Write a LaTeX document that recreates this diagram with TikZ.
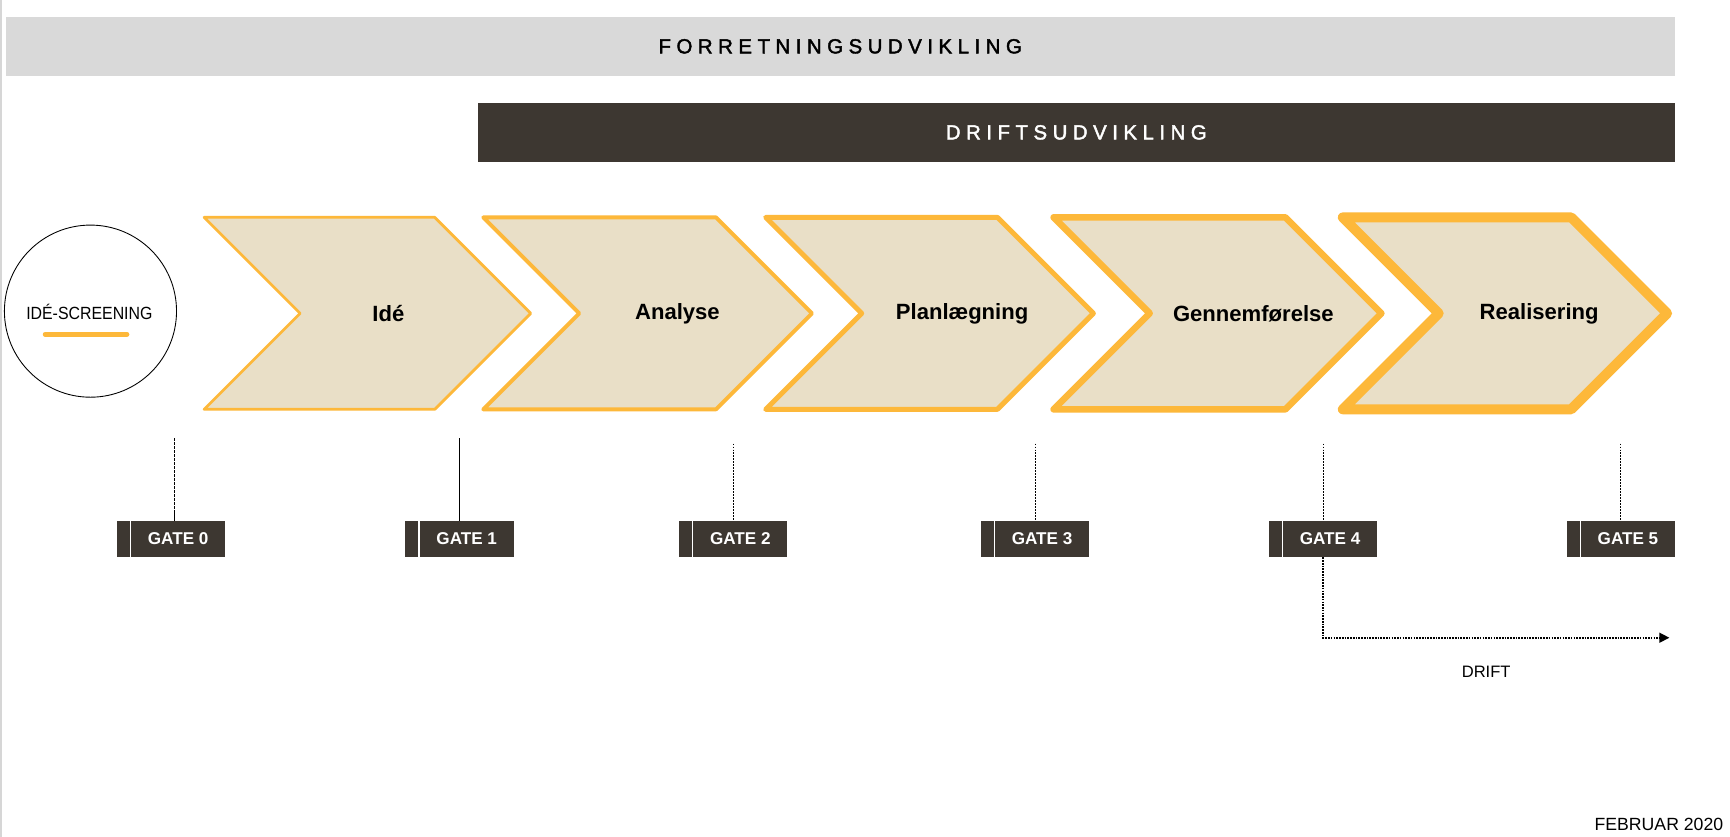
\documentclass[tikz,border=0pt]{standalone}
\usepackage{fontspec}
\setmainfont{Liberation Sans}
\newfontfamily\mediumfont[FakeBold=2]{Liberation Sans}
\usetikzlibrary{arrows.meta}
\definecolor{barGray}{HTML}{D9D9D9}
\definecolor{darkBrown}{HTML}{3D3731}
\definecolor{orangeLine}{HTML}{FDB83A}
\definecolor{chevFill}{HTML}{E9DFC7}
\definecolor{borderGray}{HTML}{D6D6D6}
\newcommand{\chevronshape}[3]{%
  \draw[chevron, line width=#3] (#1,197) -- ++(#2,0) -- ++(87,87) -- ++(-87,87) -- ++(-#2,0) -- ++(87,-87) -- cycle;}
\begin{document}
\begin{tikzpicture}[x=1pt,y=-1pt,
  chevron/.style={fill=chevFill, draw=orangeLine, line join=round},
  chevtext/.style={font=\fontsize{20}{24}\selectfont\bfseries, inner sep=0pt},
  bartext/.style={font=\mediumfont\fontsize{18.5}{22}\selectfont\addfontfeature{LetterSpace=27}, inner sep=0pt},
  gatebox/.style={fill=darkBrown, minimum width=98pt, minimum height=33pt, inner sep=0pt},
  gatetext/.style={text=white, font=\fontsize{15.5}{18}\selectfont\bfseries, inner sep=0pt},
  gateline/.style={draw=black, line width=0.7pt, dash pattern=on 1.5pt off 1.2pt},
  plaintext/.style={font=\fontsize{15}{18}\selectfont, inner sep=0pt}]
\useasboundingbox (0,0) rectangle (1568,758.6);
\fill[white] (0,0) rectangle (1568,758.6);
\draw[borderGray, line width=1.5pt] (1,0) -- (1,758.6);
% bars
\fill[barGray] (5,15) rectangle (1518,69);
\node[bartext] (forr) at (761.5,42) {FORRETNINGSUDVIKLING};
\fill[darkBrown] (433,93) rectangle (1518,147);
\node[bartext, text=white] (drift) at (975.5,120) {DRIFTSUDVIKLING};
% circle
\node[draw=black, line width=0.8pt, circle, minimum size=156pt, inner sep=0pt] (scr) at (82,282) {};
\node[font=\addfontfeature{FakeStretch=0.9}\fontsize{16}{19}\selectfont, inner sep=0pt] (scrtext) at (81,283) {IDÉ-SCREENING};
\draw[orangeLine, line width=4.5pt, line cap=round] (41,303) -- (115,303);
% chevrons
\chevronshape{185}{209}{2.5pt}
\chevronshape{438}{211}{3.5pt}
\chevronshape{694}{210}{4.5pt}
\chevronshape{955}{210}{6pt}
\chevronshape{1217}{207}{9pt}
\node[chevtext] (ide) at (352,284) {Idé};
\node[chevtext] (ana) at (614,284) {Analyse};
\node[chevtext] (plan) at (872,284) {Planlægning};
\node[chevtext] (genn) at (1136,284) {Gennemførelse};
\node[chevtext] (real) at (1395,284) {Realisering};
% gates
\foreach \n/\cx in {0/155,1/416.5,2/664.5,3/938,4/1199,5/1469}{
  \node[gatebox] (g\n) at (\cx,488.5) {};
  \draw[white, line width=1pt] ([xshift=12.5pt]g\n.north west) -- ([xshift=12.5pt]g\n.south west);
  \node[gatetext] (gt\n) at ([xshift=6.5pt,yshift=0.5pt]g\n.center) {GATE \n};
}
\coordinate (t0) at (158,397);
\coordinate (t1) at (416.5,397);
\coordinate (t2) at (664.5,402);
\coordinate (t3) at (938,402);
\coordinate (t4) at (1199,402);
\coordinate (t5) at (1469,402);
\draw[gateline, line width=0.5pt, dash pattern=on 3pt off 0.6pt] (t0) -- (t0 |- g0.north);
\draw[black, line width=0.4pt] (t1) -- (t1 |- g1.north);
\foreach \n in {2,3,4,5}{\draw[gateline] (t\n) -- (t\n |- g\n.north);}
% drift arrow
\coordinate (dEnd) at (1513,578);
\draw[line width=1.4pt, dash pattern=on 1.5pt off 1pt, -{Triangle[length=9pt,width=9pt]}] (g4.south) -- (g4.south |- dEnd) -- (dEnd);
\node[plaintext] (driftlbl) at (1347,609) {DRIFT};
\node[plaintext, font=\fontsize{16}{19}\selectfont, anchor=east] (date) at (1562,747) {FEBRUAR 2020};
\end{tikzpicture}
\end{document}
